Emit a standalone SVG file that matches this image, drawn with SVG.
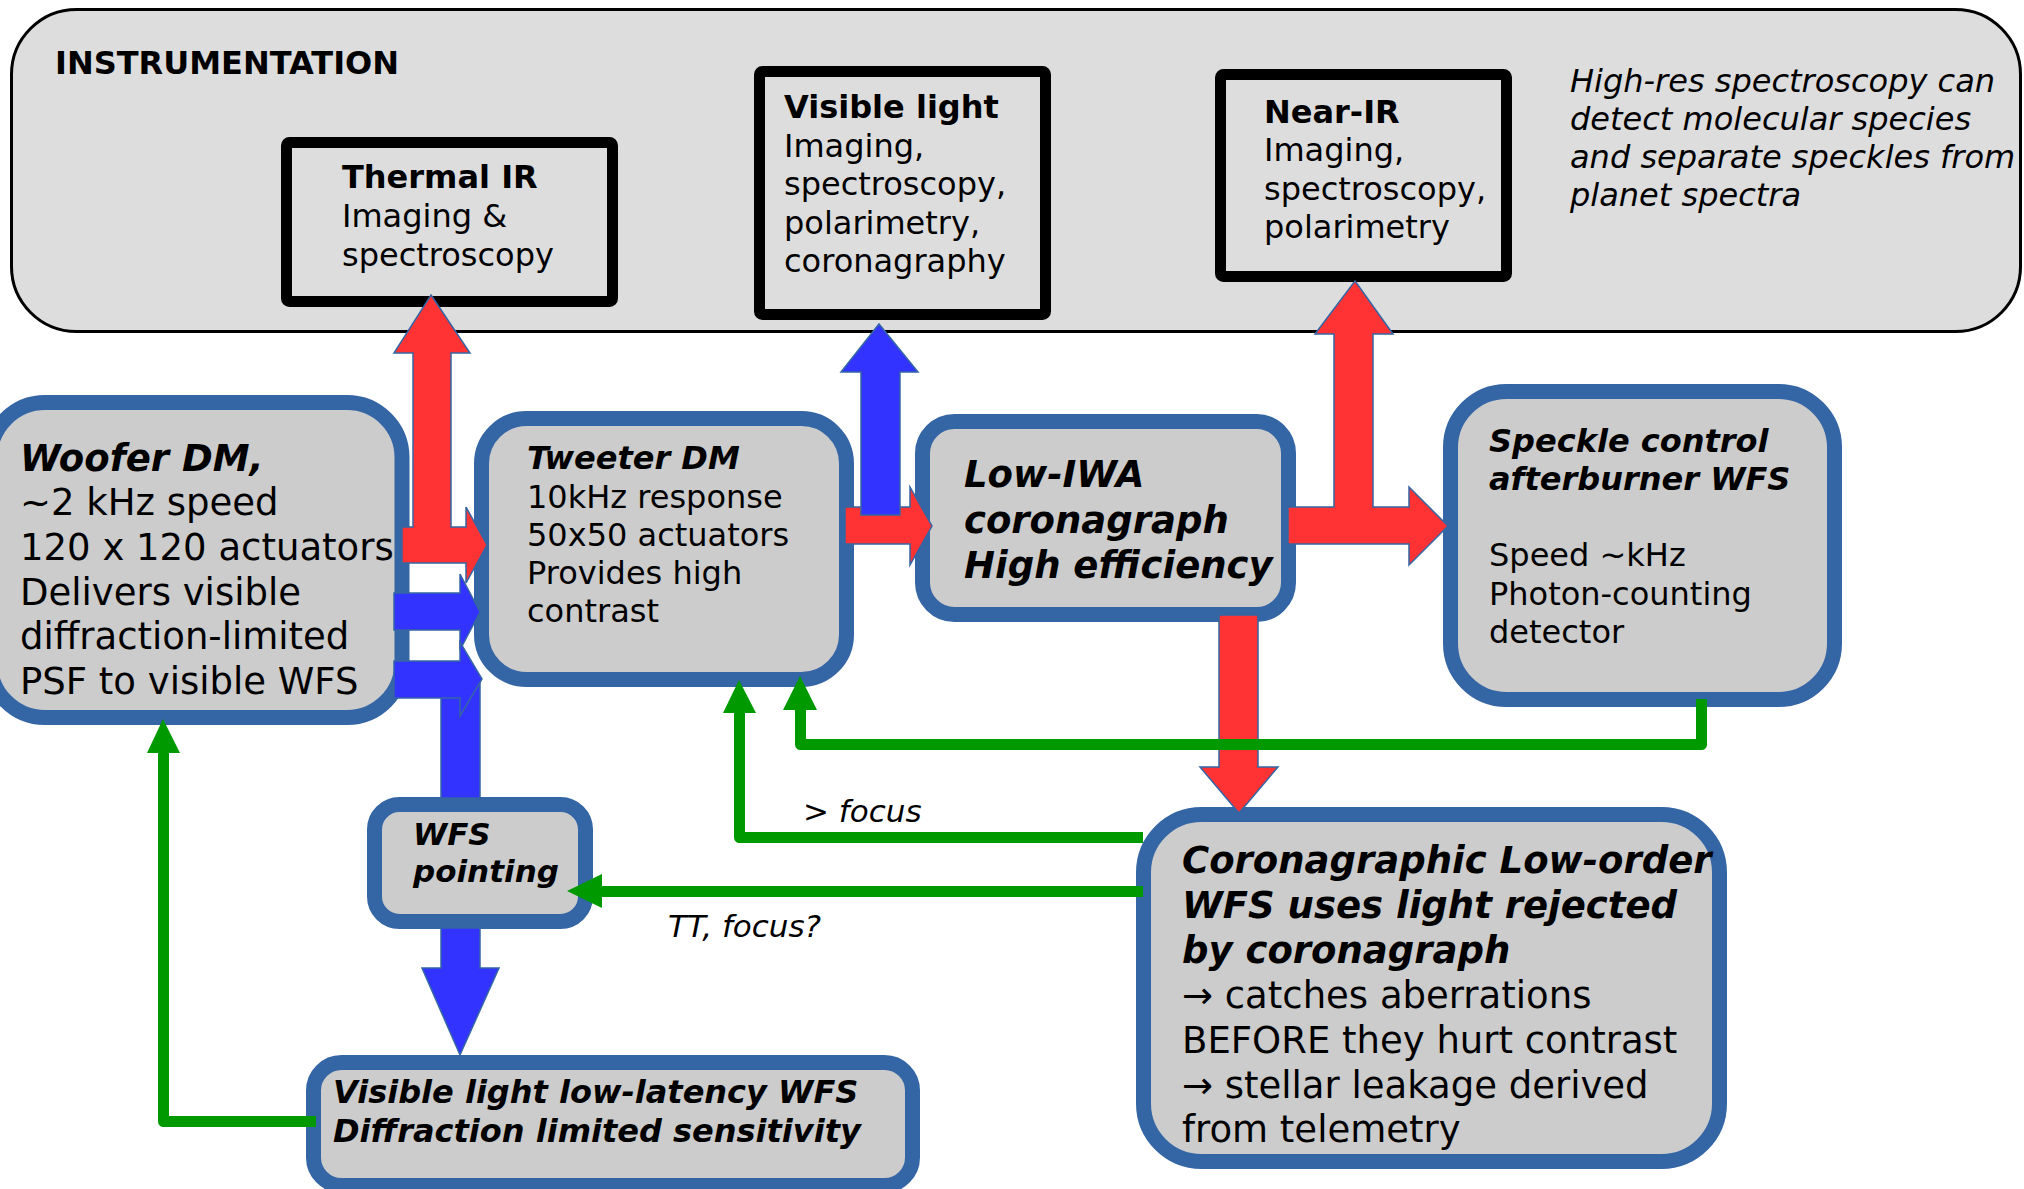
<svg xmlns="http://www.w3.org/2000/svg" width="2024" height="1189" viewBox="0 0 2024 1189">
  <style>
    text { font-family: "DejaVu Sans", "Liberation Sans", sans-serif; fill: #000; }
    .t32 { font-size: 32px; }
    .t37 { font-size: 37px; }
    .t31 { font-size: 31px; }
    .b { font-weight: bold; }
    .bi { font-weight: bold; font-style: italic; }
    .i { font-style: italic; }
    .instr { fill: #000; stroke: #000; stroke-width: 11; stroke-linejoin: round; }
    .instr-fill { fill: #dddddd; stroke: #000; stroke-width: 11; }
    .node { fill: #cccccc; stroke: #3465a4; stroke-width: 15; }
    .red { fill: #ff3333; stroke: #3465a4; stroke-width: 1.5; stroke-linejoin: miter; }
    .blue { fill: #3333ff; stroke: #3465a4; stroke-width: 1.5; stroke-linejoin: miter; }
    .gline { fill: none; stroke: #009900; stroke-width: 11; stroke-linejoin: round; }
    .ghead { fill: #009900; }
  </style>

  <!-- Instrumentation panel -->
  <g id="instrumentation">
    <rect x="11.5" y="9.5" width="2009" height="322" rx="65" ry="65" fill="#dddddd" stroke="#000" stroke-width="3"/>
    <text x="55" y="74" class="t32 b">INSTRUMENTATION</text>
    <text class="t32 i">
      <tspan x="1570" y="92">High-res spectroscopy can</tspan>
      <tspan x="1570" y="130">detect molecular species</tspan>
      <tspan x="1570" y="168">and separate speckles from</tspan>
      <tspan x="1570" y="206">planet spectra</tspan>
    </text>
  </g>

  <g id="thermal-ir">
    <rect x="286.5" y="142.5" width="326" height="159" rx="3" class="instr-fill"/>
    <text class="t32">
      <tspan x="342" y="188" class="b">Thermal IR</tspan>
      <tspan x="342" y="227">Imaging &amp;</tspan>
      <tspan x="342" y="266">spectroscopy</tspan>
    </text>
  </g>

  <g id="visible-light">
    <rect x="759.5" y="71.5" width="286" height="243" rx="3" class="instr-fill"/>
    <text class="t32">
      <tspan x="784" y="118" class="b">Visible light</tspan>
      <tspan x="784" y="157">Imaging,</tspan>
      <tspan x="784" y="195">spectroscopy,</tspan>
      <tspan x="784" y="234">polarimetry,</tspan>
      <tspan x="784" y="272">coronagraphy</tspan>
    </text>
  </g>

  <g id="near-ir">
    <rect x="1220.5" y="74.5" width="286" height="202" rx="3" class="instr-fill"/>
    <text class="t32">
      <tspan x="1264" y="123" class="b">Near-IR</tspan>
      <tspan x="1264" y="161">Imaging,</tspan>
      <tspan x="1264" y="200">spectroscopy,</tspan>
      <tspan x="1264" y="238">polarimetry</tspan>
    </text>
  </g>

  <!-- Wavefront control chain -->
  <g id="woofer-dm">
    <rect x="-10" y="402.5" width="412" height="315" rx="55" ry="55" class="node"/>
    <text class="t37">
      <tspan x="20" y="471" class="bi">Woofer DM,</tspan>
      <tspan x="20" y="515">~2 kHz speed</tspan>
      <tspan x="20" y="560">120 x 120 actuators</tspan>
      <tspan x="20" y="605">Delivers visible</tspan>
      <tspan x="20" y="649">diffraction-limited</tspan>
      <tspan x="20" y="694">PSF to visible WFS</tspan>
    </text>
  </g>

  <g id="tweeter-dm">
    <rect x="481.5" y="418.5" width="365" height="261" rx="45" ry="45" class="node"/>
    <text class="t32">
      <tspan x="527" y="469" class="bi">Tweeter DM</tspan>
      <tspan x="527" y="508">10kHz response</tspan>
      <tspan x="527" y="546">50x50 actuators</tspan>
      <tspan x="527" y="584">Provides high</tspan>
      <tspan x="527" y="622">contrast</tspan>
    </text>
  </g>

  <g id="low-iwa-coronagraph">
    <rect x="922.5" y="421.5" width="366" height="193" rx="32" ry="32" class="node"/>
    <text class="t37 bi">
      <tspan x="964" y="487">Low-IWA</tspan>
      <tspan x="964" y="533">coronagraph</tspan>
      <tspan x="964" y="578">High efficiency</tspan>
    </text>
  </g>

  <g id="speckle-wfs">
    <rect x="1450.5" y="391.5" width="384" height="308" rx="56" ry="56" class="node"/>
    <text class="t32">
      <tspan x="1489" y="452" class="bi">Speckle control</tspan>
      <tspan x="1489" y="490" class="bi">afterburner WFS</tspan>
      <tspan x="1489" y="566">Speed ~kHz</tspan>
      <tspan x="1489" y="605">Photon-counting</tspan>
      <tspan x="1489" y="643">detector</tspan>
    </text>
  </g>

  <g id="wfs-pointing">
    <rect x="374.5" y="804.5" width="211" height="117" rx="25" ry="25" class="node"/>
    <text class="t31 bi">
      <tspan x="413" y="845">WFS</tspan>
      <tspan x="413" y="882">pointing</tspan>
    </text>
  </g>

  <g id="visible-wfs">
    <rect x="313.5" y="1062.5" width="599" height="123" rx="28" ry="28" class="node"/>
    <text class="t32 bi">
      <tspan x="333" y="1103">Visible light low-latency WFS</tspan>
      <tspan x="333" y="1142">Diffraction limited sensitivity</tspan>
    </text>
  </g>

  <g id="lowfs">
    <rect x="1143.5" y="814.5" width="576" height="347" rx="58" ry="58" class="node"/>
    <text class="t37">
      <tspan x="1182" y="873" class="bi">Coronagraphic Low-order</tspan>
      <tspan x="1182" y="918" class="bi">WFS uses light rejected</tspan>
      <tspan x="1182" y="963" class="bi">by coronagraph</tspan>
      <tspan x="1182" y="1008">→ catches aberrations</tspan>
      <tspan x="1182" y="1053">BEFORE they hurt contrast</tspan>
      <tspan x="1182" y="1098">→ stellar leakage derived</tspan>
      <tspan x="1182" y="1142">from telemetry</tspan>
    </text>
  </g>

  <!-- Light paths (red = IR, blue = visible) and control loops (green) -->
  <g id="connectors">
    <polygon class="red" points="431,295 470,353 451,353 451,527 466,527 466,507 487,545 466,583 466,563 402,563 402,527 413,527 413,353 394,353"/>
    <polygon class="blue" points="394,593 460,593 460,574 480,612 460,650 460,630 394,630"/>
    <rect class="blue" x="441" y="680" width="39" height="118"/>
    <polygon class="blue" points="394,661 460,661 460,642 482,679 460,716 460,698 394,698"/>
    <polygon class="blue" points="441,928 480,928 480,968 499,968 460,1055 422,968 441,968"/>

    <polygon class="red" points="845,507 910,507 910,487 932,526 910,565 910,544 845,544"/>
    <polygon class="blue" points="861,515 861,372 841,372 879,324 918,372 900,372 900,515"/>

    <polygon class="red" points="1355,281 1393,334 1373,334 1373,507 1409,507 1409,487 1448,526 1409,565 1409,544 1288,544 1288,507 1334,507 1334,334 1315,334"/>
    <polygon class="red" points="1219,615 1258,615 1258,767 1278,767 1239,813 1200,767 1219,767"/>

    <path class="gline" d="M1701.5 699 V744.5 H800.5 V708"/>
    <polygon class="ghead" points="800,676 817,710 783,710"/>
    <path class="gline" d="M1143 837.5 H739.5 V711"/>
    <polygon class="ghead" points="739,680 756,713 723,713"/>
    <path class="gline" d="M1143 891.5 H600"/>
    <polygon class="ghead" points="567,891 602,874 602,908"/>
    <path class="gline" d="M316 1121.5 H163.5 V751"/>
    <polygon class="ghead" points="163,719 180,753 147,753"/>

    <text x="803" y="822" class="t31 i">&gt; focus</text>
    <text x="668" y="937" class="t31 i">TT, focus?</text>
  </g>
</svg>
